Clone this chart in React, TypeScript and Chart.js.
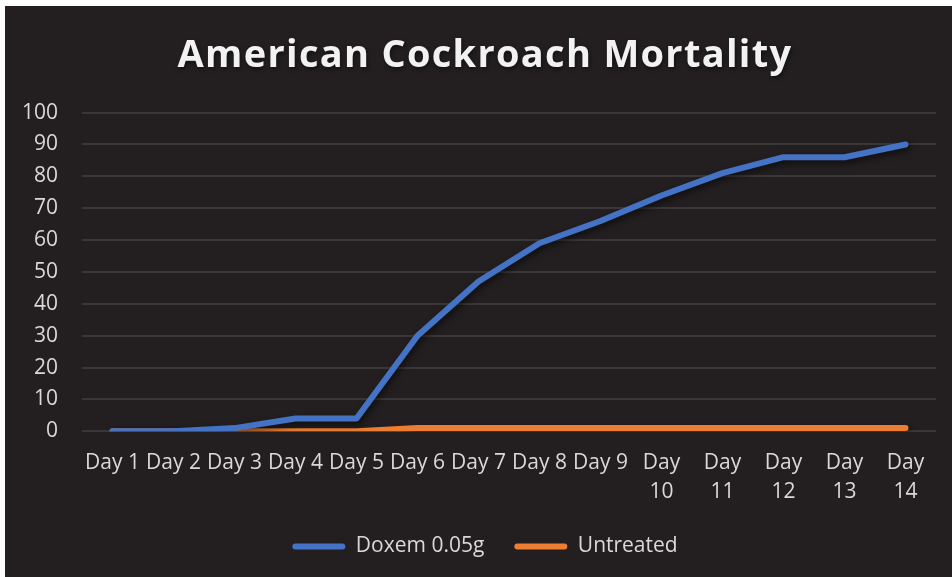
import React, { useEffect, useRef } from "react";
import { Chart, registerables } from "chart.js";

Chart.register(...registerables);

const categories = [
  "Day 1", "Day 2", "Day 3", "Day 4", "Day 5", "Day 6", "Day 7",
  "Day 8", "Day 9", "Day 10", "Day 11", "Day 12", "Day 13", "Day 14",
];
const doxemValues = [0, 0, 1, 4, 4, 30, 47, 59, 66, 74, 81, 86, 86, 90];
const untreatedValues = [0, 0, 0, 0, 0, 1, 1, 1, 1, 1, 1, 1, 1, 1];
const yTicks = [0, 10, 20, 30, 40, 50, 60, 70, 80, 90, 100];

const FONT = "'Open Sans', sans-serif";

const shadowPlugin = {
  id: "lineShadow",
  beforeDatasetDraw(chart: any) {
    const ctx = chart.ctx;
    ctx.save();
    ctx.shadowColor = "rgba(0,0,0,0.6)";
    ctx.shadowBlur = 6;
    ctx.shadowOffsetX = 2;
    ctx.shadowOffsetY = 3;
  },
  afterDatasetDraw(chart: any) {
    chart.ctx.restore();
  },
};

export default function App() {
  const ref = useRef<HTMLCanvasElement>(null);
  useEffect(() => {
    if (!ref.current) return;
    const chart: any = new Chart(ref.current, {
      type: "line",
      data: {
        labels: categories,
        datasets: [
          {
            label: "Doxem 0.05g",
            data: doxemValues,
            borderColor: "#4472C4",
            backgroundColor: "#4472C4",
            borderWidth: 6,
            pointRadius: 0,
            borderCapStyle: "round",
            borderJoinStyle: "round",
            tension: 0,
          },
          {
            label: "Untreated",
            data: untreatedValues,
            borderColor: "#ED7D31",
            backgroundColor: "#ED7D31",
            borderWidth: 6,
            pointRadius: 0,
            borderCapStyle: "round",
            borderJoinStyle: "round",
            tension: 0,
          },
        ],
      },
      options: {
        animation: false,
        responsive: false,
        maintainAspectRatio: false,
        layout: { padding: { left: 29, right: 16, top: 0, bottom: 10 } },
        plugins: {
          title: {
            display: true,
            text: "American Cockroach Mortality",
            color: "#f2f2f2",
            font: { family: FONT, size: 38, weight: "bold" },
            padding: { top: 27, bottom: 34 },
          },
          legend: {
            position: "bottom",
            labels: {
              color: "#d9d9d9",
              font: { family: FONT, size: 21 },
              boxWidth: 53,
              boxHeight: 6,
              useBorderRadius: true,
              borderRadius: 3,
              padding: 30,
              generateLabels: (c: any) =>
                (Chart.defaults.plugins.legend.labels as any)
                  .generateLabels(c)
                  .map((l: any) => ({ ...l, lineWidth: 0 })),
            },
          },
          tooltip: { enabled: false },
        },
        scales: {
          x: {
            type: "category",
            offset: true,
            grid: { display: false, drawTicks: false },
            border: { display: false },
            afterFit: (scale: any) => {
              scale.height = scale.height - 18;
            },
            ticks: {
              color: "#d9d9d9",
              font: { family: FONT, size: 21, lineHeight: 1.35 },
              maxRotation: 0,
              autoSkip: false,
              padding: 18,
              callback: function (this: any, value: any) {
                const l = this.getLabelForValue(value) as string;
                return l.length > 5 ? l.split(" ") : l;
              },
            },
          },
          y: {
            min: 0,
            max: 100,
            afterBuildTicks: (scale: any) => {
              scale.ticks = yTicks.map((v) => ({ value: v }));
            },
            afterFit: (scale: any) => {
              scale.width = 48;
            },
            grid: { color: "#3a3738", lineWidth: 2, drawTicks: false },
            border: { display: false },
            ticks: {
              color: "#d9d9d9",
              font: { family: FONT, size: 21 },
              padding: 24,
            },
          },
        },
      },
      plugins: [shadowPlugin],
    });
    if (chart.scales && chart.scales.y) {
      chart.scales.y._computeLabelArea = () => undefined;
    }
    const tb = chart.titleBlock;
    if (tb) {
      const orig = tb.draw.bind(tb);
      tb.draw = (...args: any[]) => {
        const ctx = chart.ctx;
        ctx.save();
        (ctx as any).letterSpacing = "1.3px";
        ctx.shadowColor = "rgba(0,0,0,0.5)";
        ctx.shadowBlur = 4;
        ctx.shadowOffsetX = 1;
        ctx.shadowOffsetY = 2;
        orig(...args);
        ctx.restore();
      };
    }
    chart.draw();
    return () => chart.destroy();
  }, []);
  return (
    <div
      style={{
        position: "absolute",
        left: 5,
        top: 6,
        width: 947,
        height: 571,
        background: "#231f20",
      }}
    >
      <canvas ref={ref} width={947} height={571} style={{ display: "block" }} />
    </div>
  );
}
